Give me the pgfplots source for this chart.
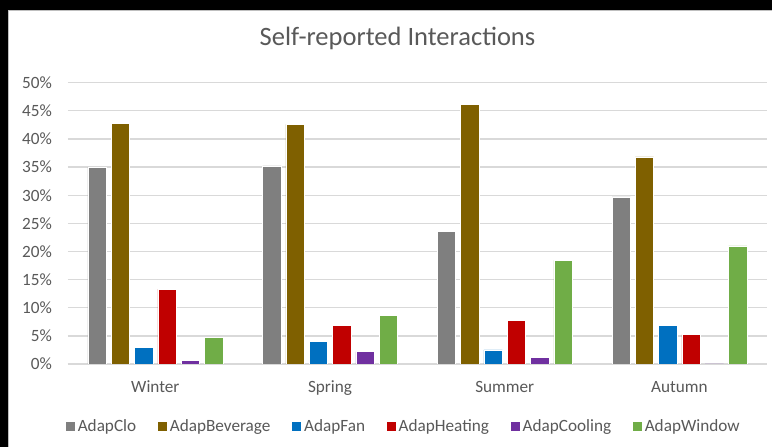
\documentclass[border=0pt]{standalone}
\usepackage{pgfplots}
\usepackage{pgfplotstable}
\pgfplotsset{compat=1.18}
\usepackage{fontspec}
\setmainfont{Carlito}

\definecolor{cClo}{HTML}{7F7F7F}
\definecolor{cBev}{HTML}{7F6000}
\definecolor{cFan}{HTML}{0070C0}
\definecolor{cHeat}{HTML}{C00000}
\definecolor{cCool}{HTML}{7030A0}
\definecolor{cWin}{HTML}{70AD47}
\definecolor{txt}{HTML}{595959}
\definecolor{gridc}{HTML}{D9D9D9}

% share of respondents (%) per season: 0 Winter, 1 Spring, 2 Summer, 3 Autumn
\pgfplotstableread{
season clo  bev  fan heat cool win
0      35.0 42.8 2.9 13.3 0.7  4.75
1      35.2 42.6 4.0 6.8  2.2  8.6
2      23.6 46.1 2.5 7.8  1.2  18.4
3      29.7 36.8 6.9 5.2  0.0  21.0
}\interactions

\begin{document}
\begin{tikzpicture}
% frame
\fill[black] (0,0) rectangle (772pt,447pt);
\fill[white] (8.5pt,0) rectangle (772pt,436.5pt);
\draw[gray!50, line width=0.8pt] (8.6pt,0) -- (8.6pt,436.4pt) -- (772pt,436.4pt);

\begin{axis}[
  at={(68pt,83pt)}, anchor=south west,
  scale only axis, width=698.8pt, height=281.3pt,
  ybar=4.9pt, bar width=18.4pt,
  xmin=-0.5, xmax=3.5, ymin=0, ymax=50,
  xtick={0,1,2,3},
  xticklabels={Winter,Spring,Summer,Autumn},
  ytick={0,5,...,50},
  yticklabels={0\%,5\%,10\%,15\%,20\%,25\%,30\%,35\%,40\%,45\%,50\%},
  major tick length=0pt,
  axis x line*=bottom, axis y line*=left,
  x axis line style={draw=gridc, line width=1.3pt},
  y axis line style={draw=none},
  ymajorgrids, grid style={draw=gridc, line width=1.3pt},
  tick label style={font=\fontsize{17.2}{20}\selectfont, text=txt},
  yticklabel style={anchor=east, inner sep=0pt, xshift=-16pt},
  xticklabel style={anchor=base, yshift=-28.7pt},
  /pgf/number format/assume math mode=true,
  title={Self-reported Interactions},
  title style={at={(axis description cs:0.4715,1.110)}, anchor=base,
    font=\fontsize{26.5}{30}\selectfont, text=txt, inner sep=0pt},
  legend columns=6,
  legend style={at={(axis description cs:0.480,-0.2204)}, anchor=center,
    draw=none, fill=none, font=\fontsize{17.2}{20}\selectfont, text=txt,
    nodes={inner xsep=2pt, inner ysep=0pt},
    /tikz/every even column/.append style={column sep=19pt}},
  legend image code/.code={\fill[#1] (0pt,-5pt) rectangle (10pt,5pt);},
  every axis plot/.append style={draw=white, line width=0.6pt},
]
\addplot[fill=cClo]  table[x=season, y=clo]  {\interactions};
\addplot[fill=cBev]  table[x=season, y=bev]  {\interactions};
\addplot[fill=cFan]  table[x=season, y=fan]  {\interactions};
\addplot[fill=cHeat] table[x=season, y=heat] {\interactions};
\addplot[fill=cCool] table[x=season, y=cool] {\interactions};
\addplot[fill=cWin]  table[x=season, y=win]  {\interactions};
\legend{AdapClo,AdapBeverage,AdapFan,AdapHeating,AdapCooling,AdapWindow}
\end{axis}
\pgfresetboundingbox
\path (0,0) rectangle (772pt,447pt);
\end{tikzpicture}
\end{document}
